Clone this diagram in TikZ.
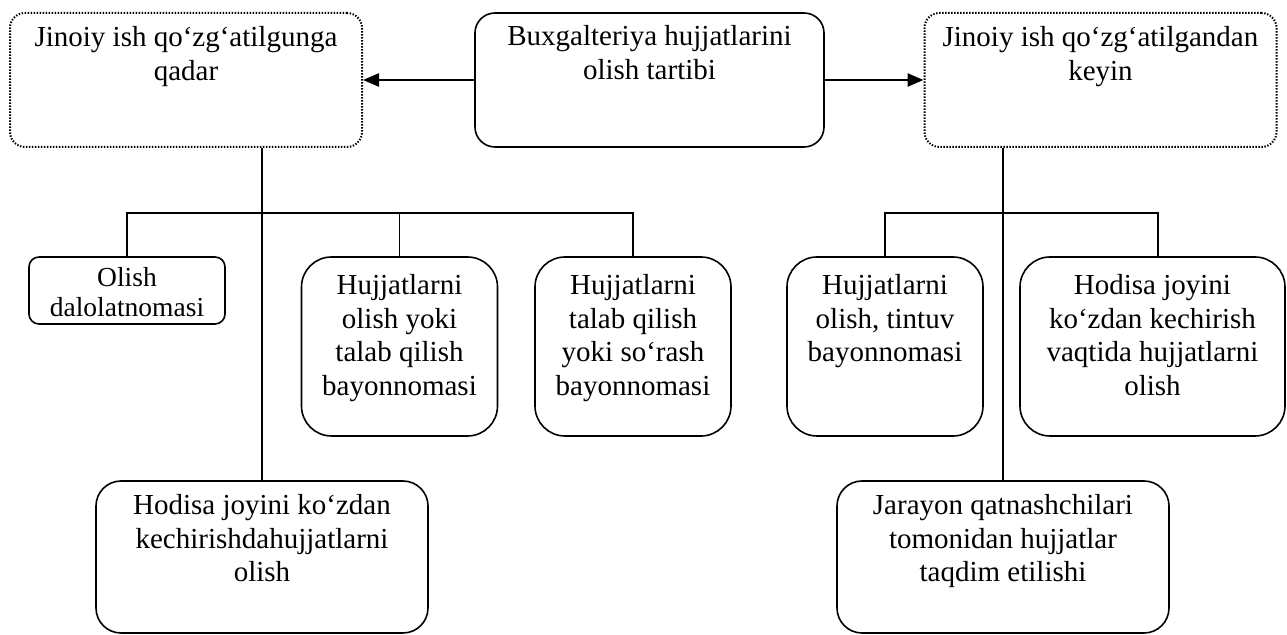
\documentclass[tikz,border=0pt]{standalone}
\usepackage{fontspec}
\setmainfont{Liberation Serif}
\usepackage{tikz}
\usetikzlibrary{arrows.meta, positioning}

\begin{document}
\begin{tikzpicture}[
  x=0.5pt, y=-0.5pt,
  font=\fontsize{14.5}{16.7}\selectfont,
  box/.style={draw, line width=0.8pt, align=flush center, inner xsep=2pt, inner ysep=0pt},
  stagebox/.style={box, line width=1pt, dash pattern=on 0.7pt off 0.8pt, rounded corners=7.5pt, text width=172pt,
                   text height=17pt, text depth=50pt},
  titlebox/.style={box, rounded corners=10pt, text width=170.5pt, text height=16.5pt, text depth=50.5pt},
  actbox/.style={box, rounded corners=5pt, text width=94pt, text height=15pt, text depth=18.5pt,
                 font=\fontsize{13.75}{15}\selectfont},
  docbox/.style={box, rounded corners=15pt, text width=94pt, text height=19pt, text depth=70.5pt},
  lowbox/.style={box, rounded corners=12.5pt, text width=162pt, text height=17pt, text depth=59pt},
  a/.style={-{Triangle[length=8pt, width=6.5pt]}, line width=1.3pt},
  link/.style={line width=0.75pt}
]
\useasboundingbox (0,0) rectangle (1287,635);

\node[stagebox] (before) at (186,80) {Jinoiy ish qo‘zg‘atilgunga\\qadar};
\node[titlebox] (title) at (649.5,80) {Buxgalteriya hujjatlarini\\olish tartibi};
\node[stagebox] (after) at (1100.5,80) {Jinoiy ish qo‘zg‘atilgandan\\keyin};

\node[actbox] (act) at (127,290.5) {Olish\\dalolatnomasi};
\node[docbox] (olishbayon) at (399.5,346.5) {Hujjatlarni\\olish yoki\\talab qilish\\bayonnomasi};
\node[docbox] (talabbayon) at (633,346.5) {Hujjatlarni\\talab qilish\\yoki so‘rash\\bayonnomasi};
\node[docbox] (tintuv) at (885,346.5) {Hujjatlarni\\olish, tintuv\\bayonnomasi};
\node[docbox, text width=128.5pt] (scene2) at (1152.5,346.5) {Hodisa joyini\\ko‘zdan kechirish\\vaqtida hujjatlarni\\olish};

\node[lowbox] (scene1) at (262,557) {Hodisa joyini ko‘zdan\\kechirishdahujjatlarni\\olish};
\node[lowbox] (parties) at (1003,557) {Jarayon qatnashchilari\\tomonidan hujjatlar\\taqdim etilishi};

\coordinate (lbar) at (633,213);
\coordinate (rbar) at (1158,213);

\draw[a] (title.west) -- (before.east);
\draw[a] (title.east) -- (after.west);

\draw[link] (before.south -| scene1.north) -- (scene1.north);
\draw[link] (act.north) |- (lbar) -- (talabbayon.north);
\draw[link] (olishbayon.north) -- (olishbayon.north |- lbar);

\draw[link] (after.south -| parties.north) -- (parties.north);
\draw[link] (tintuv.north) |- (rbar) -- (rbar |- scene2.north);
\end{tikzpicture}
\end{document}
